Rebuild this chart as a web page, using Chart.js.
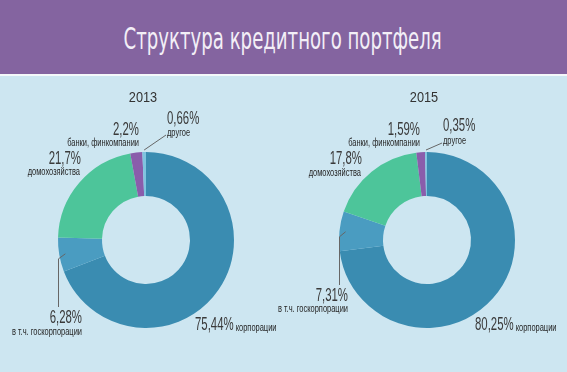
<!DOCTYPE html>
<html>
<head>
<meta charset="utf-8">
<script src="https://cdn.jsdelivr.net/npm/chart.js@4"></script>
<style>
    html, body { margin: 0; padding: 0; }
    body { width: 567px; height: 372px; background: #cde6f1; overflow: hidden; position: relative; }
    .header {
        position: absolute; left: 0; top: 0; width: 567px; height: 74px;
        background: #8464a0; border-bottom: 2px solid #f4f8fa;
    }
    .header span {
        position: absolute; left: 0; width: 567px; top: 20px; text-align: center;
        font-family: "Liberation Sans Narrow", "DejaVu Sans Condensed", sans-serif;
        font-size: 31px; line-height: 36px; color: #f3eff7;
        transform: scaleX(0.65); transform-origin: 281px 0;
    }
    canvas { position: absolute; top: 76px; left: 0; }
</style>
</head>
<body>
<div class="header"><span>Структура кредитного портфеля</span></div>
<canvas id="chart2013" width="567" height="296"></canvas>
<canvas id="chart2015" width="567" height="296"></canvas>
<script>
// Data (percent of the loan portfolio)
const years = ['2013', '2015'];
const segments = ['корпорации', 'в т.ч. госкорпорации', 'домохозяйства', 'банки, финкомпании', 'другое'];
const corporates = [75.44, 80.25];      // total, incl. state corporations
const stateCorporates = [6.28, 7.31];
const households = [21.7, 17.8];
const banks = [2.2, 1.59];
const other = [0.66, 0.35];

const colors = ['#3a8cb1', '#4a9cc1', '#4dc59a', '#8a5dab', '#7fc4df'];

// label placement, relative to the donut centre
const labelLayout = [
    [
        { dx: 49, dy: 85, align: 'left', inline: true },
        { dx: -64, dy: 78, align: 'right', subDy: 92, leader: 'elbow', endDy: 67 },
        { dx: -65, dy: -81, align: 'right', subDx: -66, subDy: -68 },
        { dx: -7, dy: -110, align: 'right', subDy: -97 },
        { dx: 21, dy: -121, align: 'left', subDy: -107, leader: 'straight' }
    ],
    [
        { dx: 48, dy: 85, align: 'left', inline: true },
        { dx: -79, dy: 56, align: 'right', subDy: 69, leader: 'elbow', endDy: 45 },
        { dx: -65, dy: -81, align: 'right', subDx: -66, subDy: -67 },
        { dx: -7, dy: -110, align: 'right', subDy: -97 },
        { dx: 16, dy: -114, align: 'left', subDy: -99, leader: 'straight' }
    ]
];

const fmt = v => String(v).replace('.', ',') + '%';

function drawText(ctx, text, x, y, font, sx, align, color) {
    ctx.save();
    ctx.font = font;
    ctx.fillStyle = color;
    ctx.textBaseline = 'middle';
    ctx.textAlign = 'left';
    const w = ctx.measureText(text).width * sx;
    let left = x;
    if (align === 'right') left = x - w;
    if (align === 'center') left = x - w / 2;
    ctx.translate(left, y);
    ctx.scale(sx, 1);
    ctx.fillText(text, 0, 0);
    ctx.restore();
    return w;
}

const sliceLabels = {
    id: 'sliceLabels',
    afterDraw(chart, args, opts) {
        const ctx = chart.ctx;
        const arcs = chart.getDatasetMeta(0).data;
        const first = arcs[0].getProps(['x', 'y', 'outerRadius'], true);
        const cx = first.x, cy = first.y, R = first.outerRadius;
        const valueFont = '19px "Liberation Sans Narrow", sans-serif';
        const subFont = '11px "Liberation Sans Narrow", sans-serif';

        drawText(ctx, opts.year, cx - 3, cy - 142, '15px "Liberation Sans Narrow", sans-serif', 0.85, 'center', '#333');

        opts.layout.forEach((lay, i) => {
            const a = arcs[i].getProps(['startAngle', 'endAngle'], true);
            const mid = (a.startAngle + a.endAngle) / 2;
            ctx.save();
            ctx.strokeStyle = '#666';
            ctx.lineWidth = 1;
            if (lay.leader === 'straight') {
                ctx.beginPath();
                ctx.moveTo(cx + Math.cos(mid) * (R + 2), cy + Math.sin(mid) * (R + 2));
                ctx.lineTo(cx + lay.dx - 1, cy + lay.subDy + 2);
                ctx.stroke();
            } else if (lay.leader === 'elbow') {
                const px = cx + Math.cos(mid) * R * 0.93;
                const py = cy + Math.sin(mid) * R * 0.93;
                ctx.beginPath();
                ctx.moveTo(px, py);
                ctx.lineTo(cx - R + 0.5, py + 5);
                ctx.lineTo(cx - R + 0.5, cy + lay.endDy);
                ctx.stroke();
            }
            ctx.restore();

            const w = drawText(ctx, fmt(opts.values[i]), cx + lay.dx, cy + lay.dy, valueFont, 0.6, lay.align, '#3a3a3a');
            if (lay.inline) {
                drawText(ctx, segments[i], cx + lay.dx + w + 2, cy + lay.dy + 3, subFont, 0.68, 'left', '#262626');
            } else {
                const sdx = lay.subDx !== undefined ? lay.subDx : lay.dx;
                drawText(ctx, segments[i], cx + sdx, cy + lay.subDy, subFont, 0.68, lay.align, '#262626');
            }
        });
    }
};

function makeDonut(id, k, padding) {
    const slices = [
        +(corporates[k] - stateCorporates[k]).toFixed(2),
        stateCorporates[k],
        households[k],
        banks[k],
        other[k]
    ];
    return new Chart(document.getElementById(id), {
        type: 'doughnut',
        data: {
            labels: segments,
            datasets: [{
                data: slices,
                backgroundColor: colors,
                borderWidth: 0
            }]
        },
        options: {
            responsive: false,
            animation: false,
            cutout: '50%',
            layout: { padding: padding },
            plugins: {
                legend: { display: false },
                tooltip: { enabled: false },
                sliceLabels: {
                    year: years[k],
                    values: [corporates[k], stateCorporates[k], households[k], banks[k], other[k]],
                    layout: labelLayout[k]
                }
            }
        },
        plugins: [sliceLabels]
    });
}

makeDonut('chart2013', 0, { left: 58, right: 333, top: 76, bottom: 44 });
makeDonut('chart2015', 1, { left: 339, right: 52, top: 76, bottom: 44 });
</script>
</body>
</html>
